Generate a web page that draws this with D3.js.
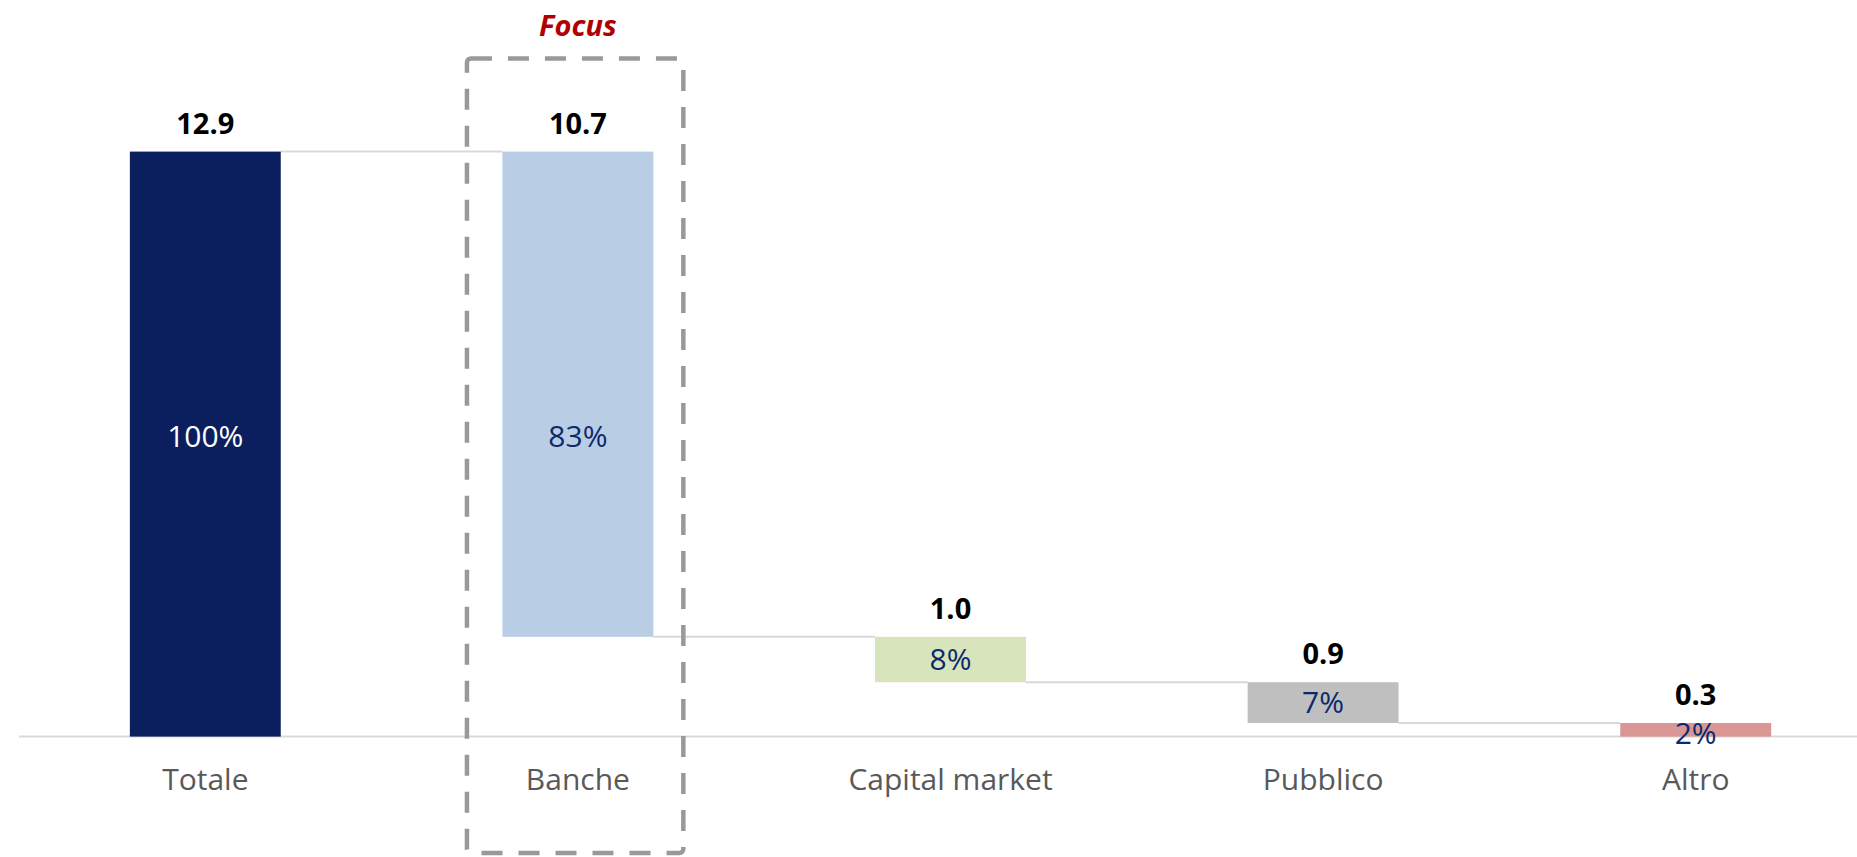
<!DOCTYPE html>
<html>
<head>
<meta charset="utf-8">
<script src="https://cdn.jsdelivr.net/npm/d3@7"></script>
<style>
  html, body { margin: 0; padding: 0; background: #fff; }
  svg { display: block; }
</style>
</head>
<body>
<svg id="chart" width="1857" height="857"></svg>
<script>
// ---- data ----
const categories = ["Totale", "Banche", "Capital market", "Pubblico", "Altro"];
const values = [12.9, 10.7, 1.0, 0.9, 0.3];
const valueLabels = ["12.9", "10.7", "1.0", "0.9", "0.3"];
const shareLabels = ["100%", "83%", "8%", "7%", "2%"];
const isTotal = [true, false, false, false, false];
const barColors = ["#0b1f5e", "#b9cde4", "#d8e4bc", "#bfbfbf", "#da9694"];
const shareColors = ["#ffffff", "#0c2a6b", "#0c2a6b", "#0c2a6b", "#0c2a6b"];
const focusCategory = "Banche";
const focusTitle = "Focus";

// ---- waterfall layout (computed from data) ----
const total = values[0];
let running = total;
const bars = categories.map((c, i) => {
  let top, bottom;
  if (isTotal[i]) { top = values[i]; bottom = 0; running = values[i]; }
  else { top = running; bottom = running - values[i]; running = bottom; }
  return { cat: c, v: values[i], top, bottom, label: valueLabels[i], share: shareLabels[i], color: barColors[i], shareColor: shareColors[i] };
});

const svg = d3.select("#chart");
const W = 1857, H = 857;

const x = d3.scaleBand().domain(categories).range([19, 1882]).paddingInner(0.595).paddingOuter(0.2975);
const y = d3.scaleLinear().domain([0, total]).range([736.6, 151.6]);

const font = "'Open Sans', 'Noto Sans', sans-serif";

// connectors
const conn = svg.append("g");
bars.forEach((b, i) => {
  if (i < bars.length - 1) {
    const level = bars[i + 1].top;
    conn.append("line")
      .attr("x1", x(b.cat) + x.bandwidth()).attr("x2", x(bars[i + 1].cat))
      .attr("y1", y(level)).attr("y2", y(level))
      .attr("stroke", "#d9d9d9").attr("stroke-width", 2);
  }
});

// baseline axis
const axisG = svg.append("g").attr("transform", `translate(0,${y(0)})`)
  .call(d3.axisBottom(x).tickSize(0).tickPadding(0));
axisG.select(".domain").remove();
axisG.append("line").attr("x1", 19).attr("x2", W).attr("y1", 0).attr("y2", 0)
  .attr("stroke", "#d9d9d9").attr("stroke-width", 2);
axisG.selectAll(".tick text")
  .attr("y", 53).attr("dy", null)
  .attr("font-family", font).attr("font-size", 30).attr("fill", "#595959");

// bars
svg.append("g").selectAll("rect").data(bars).join("rect")
  .attr("x", d => x(d.cat)).attr("width", x.bandwidth())
  .attr("y", d => y(d.top)).attr("height", d => y(d.bottom) - y(d.top))
  .attr("fill", d => d.color);

// value labels
svg.append("g").selectAll("text").data(bars).join("text")
  .attr("x", d => x(d.cat) + x.bandwidth() / 2)
  .attr("y", d => y(d.top) - 18)
  .attr("text-anchor", "middle")
  .attr("font-family", font).attr("font-weight", 700).attr("font-size", 29)
  .attr("fill", "#000").text(d => d.label);

// share labels
const tallCap = 6.63;
svg.append("g").selectAll("text").data(bars).join("text")
  .attr("x", d => x(d.cat) + x.bandwidth() / 2)
  .attr("y", d => {
    const mid = (d.top + d.bottom) / 2;
    const v = (d.top - d.bottom) > 5 ? tallCap : (d.top - d.bottom) < 0.5 ? d.bottom + 0.08 : mid;
    return y(v);
  })
  .attr("dy", "0.36em")
  .attr("text-anchor", "middle")
  .attr("font-family", font).attr("font-size", 30)
  .attr("fill", d => d.shareColor).text(d => d.share);

// focus box
const fx = x(focusCategory), fw = x.bandwidth();
svg.append("rect")
  .attr("x", fx - 35.5).attr("width", fw + 35.5 + 30)
  .attr("y", 58.5).attr("height", 853 - 58.5)
  .attr("rx", 4)
  .attr("fill", "none").attr("stroke", "#999999").attr("stroke-width", 4.5)
  .attr("stroke-dasharray", "21 16");
svg.append("text")
  .attr("x", fx + fw / 2).attr("y", 36)
  .attr("text-anchor", "middle")
  .attr("font-family", font).attr("font-weight", 700).attr("font-style", "italic")
  .attr("font-size", 29).attr("fill", "#b00000").text(focusTitle);
</script>
</body>
</html>
